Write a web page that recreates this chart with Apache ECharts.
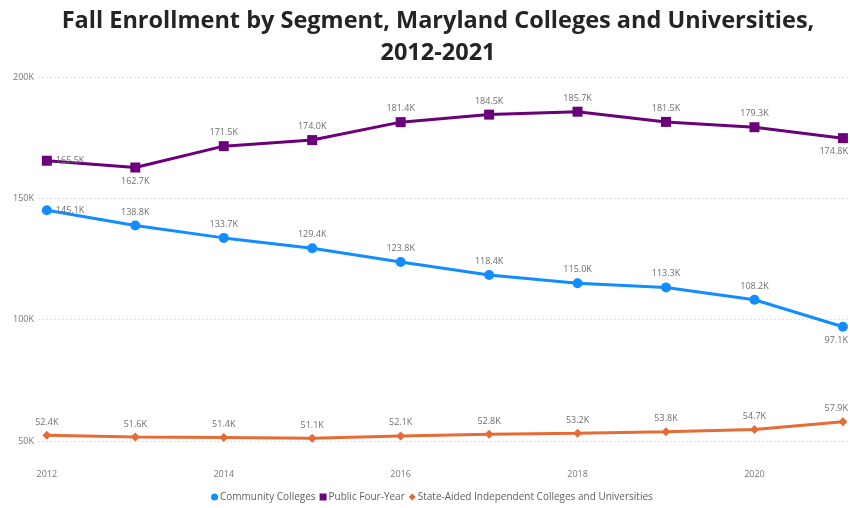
<!DOCTYPE html>
<html>
<head>
<meta charset="utf-8">
<script src="https://cdn.jsdelivr.net/npm/echarts@6/dist/echarts.min.js"></script>
<style>
  html, body { margin: 0; padding: 0; background: #fff; }
  #chart { width: 850px; height: 508px; }
</style>
</head>
<body>
<div id="chart"></div>
<script>
// Fall enrollment (headcount) by segment
const years = [2012, 2013, 2014, 2015, 2016, 2017, 2018, 2019, 2020, 2021];
const communityColleges = [145100, 138800, 133700, 129400, 123800, 118400, 115000, 113300, 108200, 97100];
const publicFourYear = [165500, 162700, 171500, 174000, 181400, 184500, 185700, 181500, 179300, 174800];
const stateAided = [52400, 51600, 51400, 51100, 52100, 52800, 53200, 53800, 54700, 57900];
const yTicks = [50000, 100000, 150000, 200000];
const xTickYears = [2012, 2014, 2016, 2018, 2020];

const FONT = '"Open Sans", "Noto Sans", sans-serif';
const fmtK = v => (v / 1000).toFixed(1) + 'K';

// label placement per point (default above the marker)
function buildData(values, labels) {
  return values.map((v, i) => {
    const item = { value: [years[i], v] };
    if (labels[i]) item.label = labels[i];
    return item;
  });
}

// last point's label is pulled left so it stays inside the chart
const lastLeft = pos => ({ position: pos, align: 'right', offset: [5, 0] });

function lineSeries(name, values, color, symbol, size, labels) {
  return {
    name: name,
    type: 'line',
    data: buildData(values, labels),
    symbol: symbol,
    symbolSize: size,
    showAllSymbol: true,
    lineStyle: { color: color, width: 3 },
    itemStyle: { color: color },
    label: {
      show: true,
      position: 'top',
      distance: 4,
      color: '#6e6e6e',
      fontFamily: FONT,
      fontSize: 9,
      formatter: p => fmtK(p.value[1])
    },
    emphasis: { disabled: true },
    animation: false
  };
}

const chart = echarts.init(document.getElementById('chart'), null, { renderer: 'canvas' });

chart.setOption({
  backgroundColor: '#ffffff',
  title: {
    text: 'Fall Enrollment by Segment, Maryland Colleges and Universities,\n2012-2021',
    left: 433,
    textAlign: 'center',
    top: 0,
    textStyle: {
      fontFamily: FONT,
      fontWeight: 'bold',
      fontSize: 23.5,
      color: '#252423',
      lineHeight: 32
    }
  },
  legend: {
    bottom: 1,
    left: 206,
    itemWidth: 7,
    itemHeight: 7,
    itemGap: 4,
    textStyle: { fontFamily: FONT, fontSize: 10, color: '#605e5c', padding: [0, 0, 0, -3] },
    data: [
      { name: 'Community Colleges', icon: 'circle' },
      { name: 'Public Four-Year', icon: 'rect' },
      { name: 'State-Aided Independent Colleges and Universities', icon: 'diamond' }
    ]
  },
  grid: { left: 38, right: 0, top: 77, bottom: 67 },
  xAxis: {
    type: 'value',
    min: 2011.9,
    max: 2021.08,
    splitLine: { show: false },
    axisLine: { show: false },
    axisTick: { show: false },
    axisLabel: {
      customValues: xTickYears,
      formatter: v => String(v),
      color: '#777',
      fontFamily: FONT,
      fontSize: 9,
      margin: 29
    }
  },
  yAxis: {
    type: 'value',
    min: 50000,
    max: 200000,
    interval: 50000,
    axisLine: { show: false },
    axisTick: { show: false },
    splitLine: { lineStyle: { color: '#e2e2e2', type: [2, 2], width: 1 } },
    axisLabel: {
      customValues: yTicks,
      formatter: v => (v / 1000) + 'K',
      color: '#777',
      fontFamily: FONT,
      fontSize: 9,
      margin: 4
    }
  },
  series: [
    lineSeries('Community Colleges', communityColleges, '#118DFF', 'circle', 10,
      { 0: { position: 'right' }, 9: lastLeft('bottom') }),
    lineSeries('Public Four-Year', publicFourYear, '#6B007B', 'rect', 10,
      { 0: { position: 'right' }, 1: { position: 'bottom' }, 9: lastLeft('bottom') }),
    lineSeries('State-Aided Independent Colleges and Universities', stateAided, '#E66C37', 'diamond', 9,
      { 9: lastLeft('top') })
  ]
});
</script>
</body>
</html>
